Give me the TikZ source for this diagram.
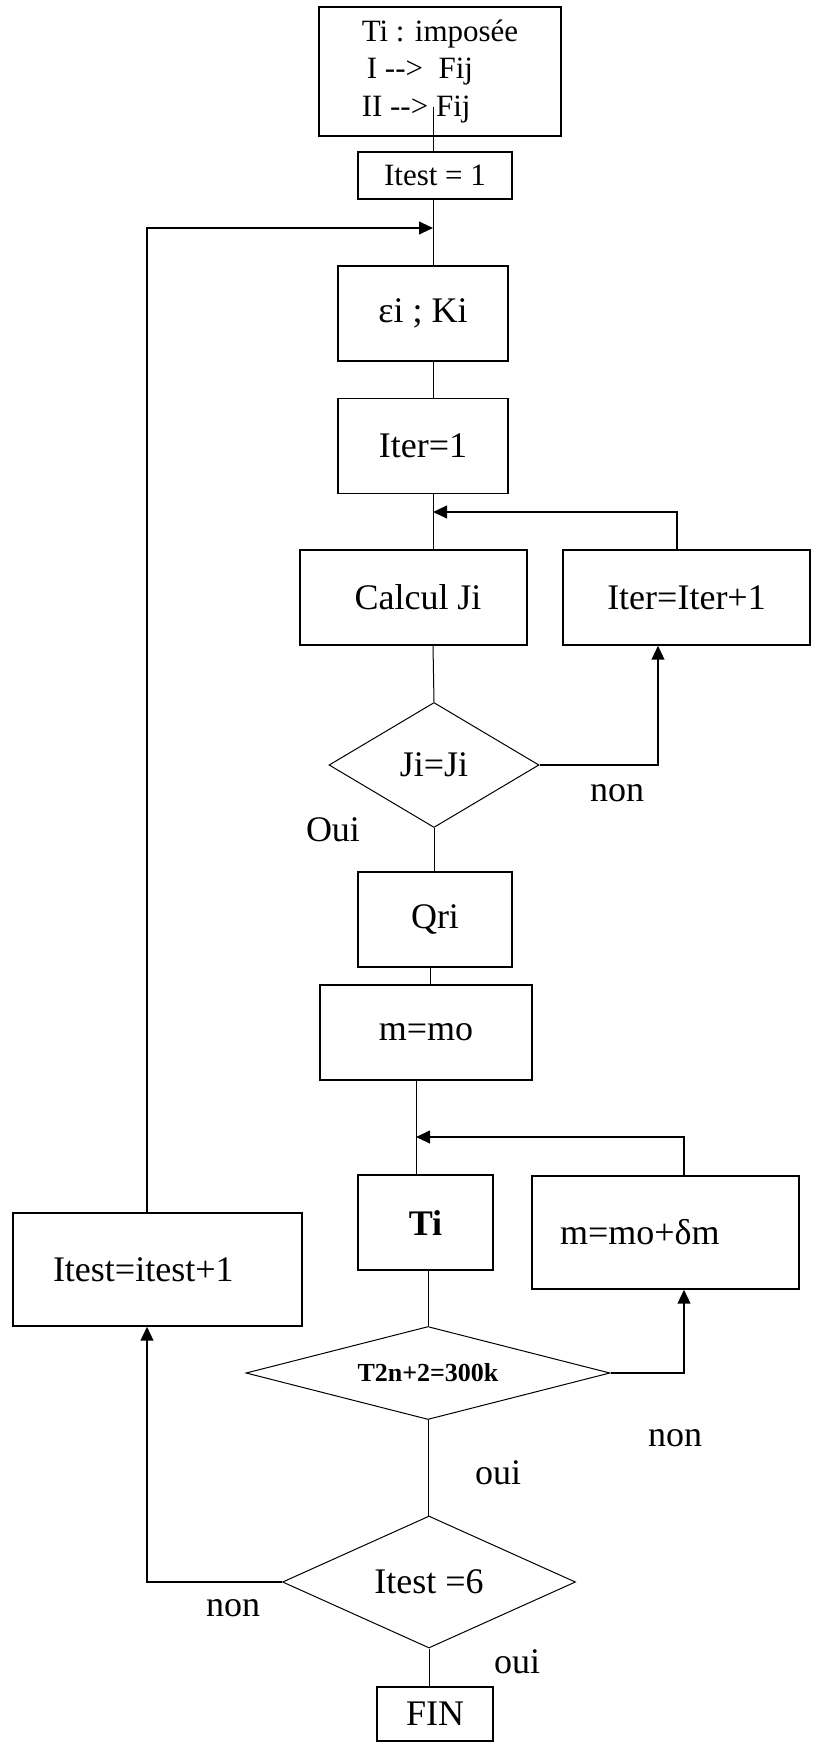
\documentclass[tikz,border=0pt]{standalone}
\usepackage{fontspec}
\setmainfont{Liberation Serif}
\usetikzlibrary{shapes.geometric,arrows.meta}

\tikzset{every picture/.style={line width=0.75pt}}
\tikzset{
  blk/.style={draw, line width=1pt, inner sep=0pt, font=\fontsize{27pt}{32pt}\selectfont},
  dcs/.style={draw, diamond, aspect=3, inner sep=0pt, font=\fontsize{27pt}{32pt}\selectfont},
  lbl/.style={inner sep=0pt, font=\fontsize{27pt}{32pt}\selectfont},
  back/.style={line width=1.5pt, -{Triangle[length=10.5pt,width=9.5pt]}},
}

\begin{document}
\begin{tikzpicture}[x=0.75pt,y=0.75pt,yscale=-1,xscale=1]
\useasboundingbox (0,0) rectangle (813,1744);

%Shape: Rectangle [id:start]
\node[blk, minimum width=181.5pt, minimum height=96.75pt, align=left, font=\fontsize{23.25pt}{28pt}\selectfont] (start) at (440,71.5) {Ti : imposée\\ \,I -{}->\ \ Fij\\II -{}-> Fij};
%Shape: Rectangle [id:itest1]
\node[blk, minimum width=115.5pt, minimum height=35.25pt, font=\fontsize{23.25pt}{28pt}\selectfont] (itest1) at (435,175.5) {Itest = 1};
%Shape: Rectangle [id:ek]
\node[blk, minimum width=127.5pt, minimum height=71.25pt] (ek) at (423,313.5) {εi ; Ki};
%Shape: Rectangle [id:iter1]
\node[blk, minimum width=127.5pt, minimum height=71.25pt] (iter1) at (423,446) {Iter=1};
%Shape: Rectangle [id:calc]
\node[blk, minimum width=170.25pt, minimum height=71.25pt] (calc) at (413.5,597.5) {\ Calcul Ji};
%Shape: Rectangle [id:iterinc]
\node[blk, minimum width=185.25pt, minimum height=71.25pt] (iterinc) at (686.5,597.5) {Iter=Iter+1};
%Shape: Diamond [id:djj]
\node[dcs, minimum width=157.5pt, minimum height=93.75pt] (djj) at (434,765) {Ji=Ji};
%Shape: Rectangle [id:qri]
\node[blk, minimum width=115.5pt, minimum height=71.25pt] (qri) at (435,919.5) {Qri};
%Shape: Rectangle [id:mmo]
\node[blk, minimum width=159pt, minimum height=71.25pt] (mmo) at (426,1032.5) {m=mo};
%Shape: Rectangle [id:ti]
\node[blk, minimum width=101.25pt, minimum height=71.25pt, font=\fontsize{27pt}{32pt}\selectfont\bfseries] (ti) at (425.5,1222.5) {Ti};
%Shape: Rectangle [id:mdm]
\node[blk, minimum width=200.25pt, minimum height=84.75pt, inner xsep=21pt, text width=158.25pt, align=left] (mdm) at (665.5,1232.5) {m=mo+δm};
%Shape: Rectangle [id:itinc]
\node[blk, minimum width=216.75pt, minimum height=84.75pt, inner xsep=30pt, text width=156.75pt, align=left] (itinc) at (157.5,1269.5) {Itest=itest+1};
%Shape: Diamond [id:dt]
\node[dcs, minimum width=273pt, minimum height=69.75pt, font=\fontsize{19.5pt}{23pt}\selectfont\bfseries] (dt) at (428,1373) {T2n+2=300k};
%Shape: Diamond [id:d6]
\node[dcs, minimum width=219.75pt, minimum height=99pt] (d6) at (429,1582) {Itest =6};
%Shape: Rectangle [id:fin]
\node[blk, minimum width=87pt, minimum height=40.5pt] (fin) at (435,1714) {FIN};

% Text Node
\node[lbl] (nonA) at (617,793) {non};
\node[lbl] (ouiA) at (333,830) {Oui};
\node[lbl] (nonB) at (675,1438) {non};
\node[lbl] (ouiB) at (498,1473) {oui};
\node[lbl] (nonC) at (233,1608) {non};
\node[lbl] (ouiC) at (517,1662) {oui};

% bends of the connectors
\coordinate (spine) at (433,0);
\coordinate (startin) at (433,107);
\coordinate (qm) at (430,0);
\coordinate (tspine) at (416,0);
\coordinate (itx) at (677,512);
\coordinate (nx) at (658,0);
\coordinate (mx) at (684,1137);
\coordinate (ox) at (147,228);

%Straight Lines
\draw (startin) -- (startin |- itest1.north);
\draw (spine |- itest1.south) -- (spine |- ek.north);
\draw (spine |- ek.south) -- (spine |- iter1.north);
\draw (spine |- iter1.south) -- (spine |- calc.north);
\draw (spine |- calc.south) -- (djj.north);
\draw (djj.south) -- (djj.south |- qri.north);
\draw (qm |- qri.south) -- (qm |- mmo.north);
\draw (tspine |- mmo.south) -- (tspine |- ti.north);
\draw (dt.north |- ti.south) -- (dt.north);
\draw (dt.south) -- (dt.south |- d6.north);
\draw (d6.south) -- (d6.south |- fin.north);

%Arrows
\draw[back] (itx |- iterinc.north) -- (itx) -- (spine |- itx);
\draw[back] (djj.east) -- (nx |- djj.east) -- (nx |- iterinc.south);
\draw[back] (mx |- mdm.north) -- (mx) -- (tspine |- mx);
\draw[back] (dt.east) -- (mx |- dt.east) -- (mx |- mdm.south);
\draw[back] (ox |- itinc.north) -- (ox) -- (spine |- ox);
\draw[back] (d6.west) -- (ox |- d6.west) -- (ox |- itinc.south);

\end{tikzpicture}
\end{document}
